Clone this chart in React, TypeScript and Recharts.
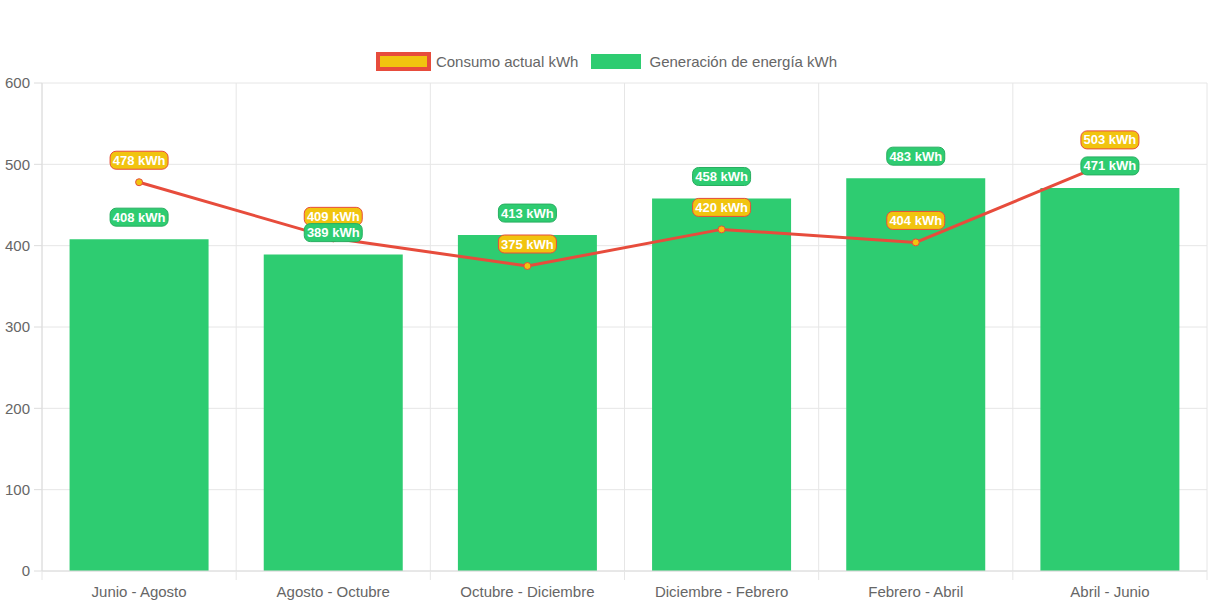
import React from 'react';
import { ComposedChart, Bar, Line, XAxis, YAxis, CartesianGrid, LabelList } from 'recharts';

const categories = ['Junio - Agosto', 'Agosto - Octubre', 'Octubre - Diciembre', 'Diciembre - Febrero', 'Febrero - Abril', 'Abril - Junio'];
const consumo = [478, 409, 375, 420, 404, 503];
const generacion = [408, 389, 413, 458, 483, 471];
const yTicks = [0, 100, 200, 300, 400, 500, 600];

const data = categories.map((name, i) => ({ name, consumo: consumo[i], generacion: generacion[i] }));

const W = 1213;
const H = 606;
const MARGIN = { top: 83, right: 6, bottom: 0, left: 0 };
const YW = 42;
const XH = 35;
const PLOT_W = W - MARGIN.left - MARGIN.right - YW;
const BAND = PLOT_W / categories.length;

const FONT = '"Liberation Sans", Arial, Helvetica, sans-serif';
const RED = '#e74c3c';
const YELLOW = '#f1c40f';
const GREEN = '#2ecc71';
const DARKGREEN = '#27ae60';
const GRID = '#e6e6e6';
const AXIS = '#dcdcdc';

const makeLabel = (fill: string, stroke: string) => (props: any) => {
  const { x, y, value } = props;
  if (x == null || y == null) return null;
  const cy = y - 22;
  const w = 58;
  const h = 18;
  return (
    <g>
      <rect x={x - w / 2} y={cy - h / 2} width={w} height={h} rx={6} ry={6} fill={fill} stroke={stroke} strokeWidth={1} />
      <text x={x} y={cy + 4.5} textAnchor="middle" fill="#fff" fontFamily={FONT} fontSize={13} fontWeight="bold">
        {`${value} kWh`}
      </text>
    </g>
  );
};

const XTick = (props: any) => {
  const { x, y, payload, index } = props;
  const axisY = y - 15;
  return (
    <g>
      <line x1={x - BAND / 2} x2={x - BAND / 2} y1={axisY} y2={axisY + 9} stroke={GRID} />
      {index === categories.length - 1 && (
        <line x1={x + BAND / 2} x2={x + BAND / 2} y1={axisY} y2={axisY + 9} stroke={GRID} />
      )}
      <text x={x} y={y} dy="0.71em" textAnchor="middle" fill="#666" fontFamily={FONT} fontSize={15}>
        {payload.value}
      </text>
    </g>
  );
};

const verticalGen = ({ offset }: any) => {
  const res: number[] = [];
  for (let i = 0; i <= categories.length; i++) res.push(offset.left + (offset.width / categories.length) * i);
  return res;
};

export default function App() {
  return (
    <div style={{ position: 'absolute', left: 0, top: 0, width: W, height: H, background: '#fff', fontFamily: FONT }}>
      <div
        style={{
          position: 'absolute',
          top: 51,
          left: 0,
          width: W,
          height: 20,
          display: 'flex',
          justifyContent: 'center',
          alignItems: 'center',
          fontSize: 15,
          color: '#666',
        }}
      >
        <div style={{ width: 47, height: 11, border: `4px solid ${RED}`, background: YELLOW }} />
        <span style={{ marginLeft: 5, marginRight: 13 }}>Consumo actual kWh</span>
        <div style={{ width: 50, height: 15, background: GREEN }} />
        <span style={{ marginLeft: 8 }}>Generación de energía kWh</span>
      </div>
      <ComposedChart width={W} height={H} data={data} margin={MARGIN} barCategoryGap="14.2%">
        <CartesianGrid stroke={GRID} verticalCoordinatesGenerator={verticalGen} />
        <XAxis
          dataKey="name"
          interval={0}
          height={XH}
          tickLine={false}
          tickSize={8}
          tickMargin={7}
          axisLine={{ stroke: AXIS }}
          tick={<XTick />}
        />
        <YAxis
          width={YW}
          domain={[0, 600]}
          ticks={yTicks}
          tickSize={8}
          tickMargin={4}
          axisLine={{ stroke: AXIS }}
          tickLine={{ stroke: AXIS }}
          tick={{ fill: '#666', fontSize: 15, fontFamily: FONT }}
        />
        <Bar dataKey="generacion" fill={GREEN} isAnimationActive={false} />
        <Line
          dataKey="consumo"
          stroke={RED}
          strokeWidth={3}
          dot={{ r: 3.5, fill: YELLOW, stroke: RED, strokeWidth: 1 }}
          activeDot={false}
          isAnimationActive={false}
        >
          <LabelList dataKey="consumo" content={makeLabel(YELLOW, RED)} />
        </Line>
        <Line
          dataKey="generacion"
          stroke="none"
          dot={false}
          activeDot={false}
          isAnimationActive={false}
        >
          <LabelList dataKey="generacion" content={makeLabel(GREEN, DARKGREEN)} />
        </Line>
      </ComposedChart>
    </div>
  );
}
